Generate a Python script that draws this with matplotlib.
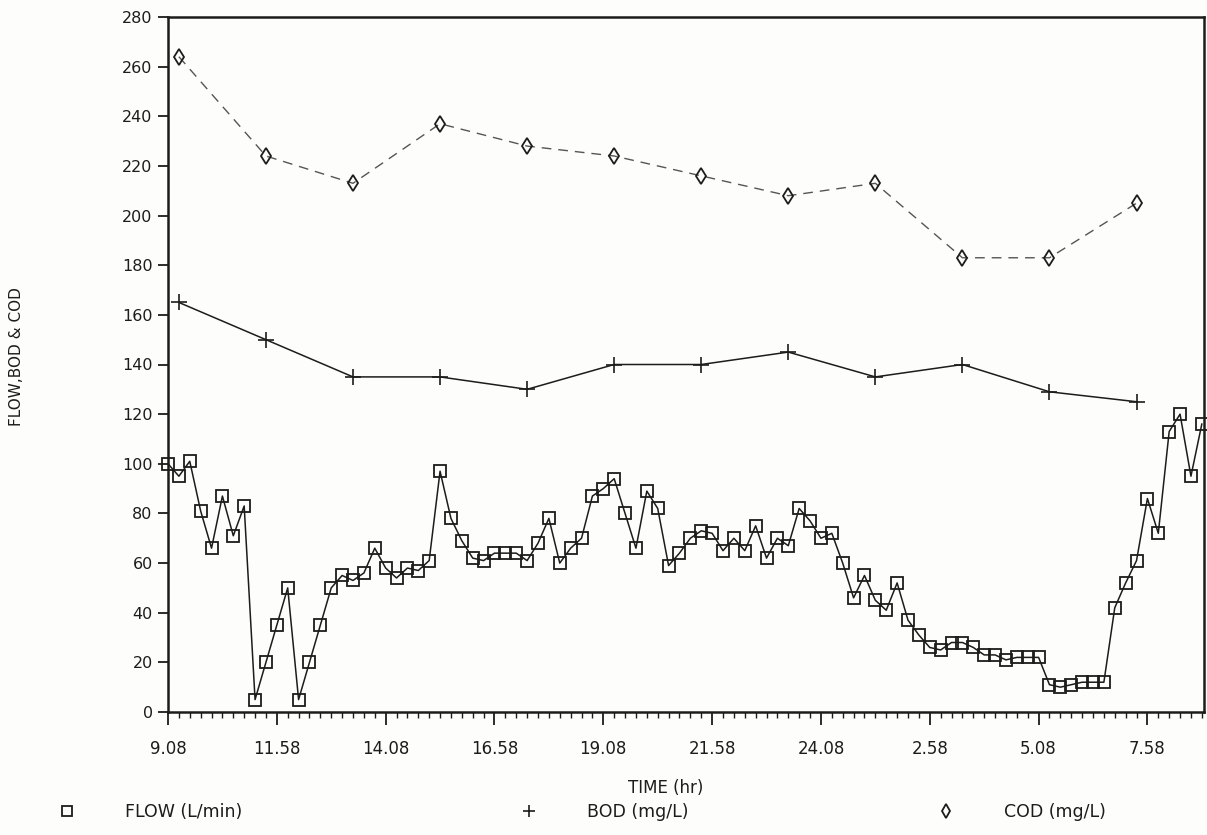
import matplotlib.pyplot as plt
from matplotlib.lines import Line2D

# flow every 15 min (96 readings), BOD/COD every 2 h
flow = [100, 95, 101, 81, 66, 87, 71, 83, 5, 20,
        35, 50, 5, 20, 35, 50, 55, 53, 56, 66,
        58, 54, 58, 57, 61, 97, 78, 69, 62, 61,
        64, 64, 64, 61, 68, 78, 60, 66, 70, 87,
        90, 94, 80, 66, 89, 82, 59, 64, 70, 73,
        72, 65, 70, 65, 75, 62, 70, 67, 82, 77,
        70, 72, 60, 46, 55, 45, 41, 52, 37, 31,
        26, 25, 28, 28, 26, 23, 23, 21, 22, 22,
        22, 11, 10, 11, 12, 12, 12, 42, 52, 61,
        86, 72, 113, 120, 95, 116]
sample_pos = [1, 9, 17, 25, 33, 41, 49, 57, 65, 73, 81, 89]
bod = [165, 150, 135, 135, 130, 140, 140, 145, 135, 140, 129, 125]
cod = [264, 224, 213, 237, 228, 224, 216, 208, 213, 183, 183, 205]
time_labels = ['9.08', '11.58', '14.08', '16.58', '19.08',
               '21.58', '24.08', '2.58', '5.08', '7.58']

W, H = 1207, 835
ink = '#1c1c1c'
fig = plt.figure(figsize=(W / 100, H / 100), dpi=100, facecolor='#fdfdfb')
ax = fig.add_axes([168 / W, 1 - 712 / H, (1204 - 168) / W, (712 - 17) / H])
ax.set_facecolor('#fdfdfb')

# FLOW
ax.plot(range(len(flow)), flow, color=ink, lw=1.1, marker='s', ms=8.5,
        mfc='none', mec=ink, mew=1.3, clip_on=False, zorder=3)
# BOD
ax.plot(sample_pos, bod, color=ink, lw=1.1, marker='+', ms=11, mew=1.2,
        clip_on=False, zorder=3)
# COD
ax.plot(sample_pos, cod, color='#555555', lw=1.0, ls=(0, (7, 5)),
        marker='d', ms=8, mfc='none', mec=ink, mew=1.3, clip_on=False, zorder=3)

ax.set_xlim(0, 95.2)
ax.set_ylim(0, 280)
ax.set_yticks(range(0, 281, 20))
ax.set_xticks(range(0, 91, 10))
ax.set_xticklabels(time_labels)
ax.set_xticks(range(0, 96), minor=True)

for s in ax.spines.values():
    s.set_linewidth(1.8)
    s.set_color(ink)

ax.tick_params(axis='y', direction='out', length=7, width=1.3, colors=ink,
               labelsize=11.5, pad=4, right=False)
ax.tick_params(axis='x', which='major', direction='out', length=9, width=1.3,
               colors=ink, labelsize=12, pad=11)
ax.tick_params(axis='x', which='minor', direction='out', length=4.5, width=1.0,
               colors=ink)

fig.text(666 / W, 1 - 788 / H, 'TIME (hr)', ha='center', va='center',
         fontsize=12, color=ink)
fig.text(17 / W, 1 - 357 / H, 'FLOW,BOD & COD', rotation=90, ha='center',
         va='center', fontsize=11, color=ink)

# legend row under the axis title
entries = [
    (Line2D([], [], ls='none', marker='s', ms=7.5, mfc='none', mec=ink, mew=1.3),
     'FLOW (L/min)', 67),
    (Line2D([], [], ls='none', marker='+', ms=9, mec=ink, mew=1.2),
     'BOD (mg/L)', 529),
    (Line2D([], [], ls='none', marker='d', ms=7, mfc='none', mec=ink, mew=1.3),
     'COD (mg/L)', 946),
]
for handle, label, xm in entries:
    leg = fig.legend([handle], [label], loc='center left',
                     bbox_to_anchor=((xm - 8.7) / W, 1 - 812 / H),
                     frameon=False, borderpad=0, borderaxespad=0,
                     handlelength=1.0, handletextpad=2.83, fontsize=12.5)
    for t in leg.get_texts():
        t.set_color(ink)

fig.savefig('out.png', dpi=100, facecolor=fig.get_facecolor())
